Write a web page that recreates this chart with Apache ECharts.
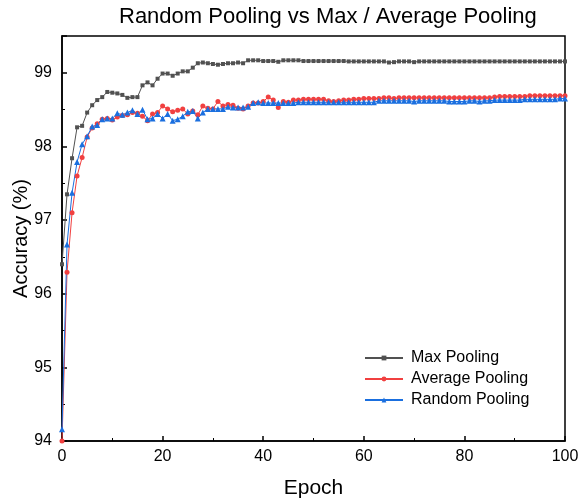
<!DOCTYPE html>
<html><head><meta charset="utf-8">
<script src="https://cdn.jsdelivr.net/npm/echarts@6/dist/echarts.min.js"></script>
<style>html,body{margin:0;padding:0;background:#fff}#c{width:579px;height:502px}</style>
</head><body><div id="c"></div>
<script>
const epochs = Array.from({length: 101}, (_, i) => i);
const maxPooling = [
96.40,97.35,97.84,98.26,98.28,98.46,98.56,98.63,98.67,98.74,
98.73,98.72,98.70,98.66,98.67,98.67,98.83,98.87,98.83,98.92,
98.99,98.99,98.96,98.99,99.02,99.02,99.07,99.13,99.14,99.13,
99.12,99.11,99.12,99.13,99.13,99.14,99.13,99.17,99.17,99.17,
99.16,99.16,99.16,99.15,99.17,99.17,99.17,99.17,99.16,99.16,
99.16,99.16,99.16,99.16,99.16,99.16,99.16,99.155,99.155,99.155,
99.155,99.155,99.155,99.155,99.155,99.14,99.145,99.155,99.155,99.155,
99.145,99.155,99.155,99.155,99.155,99.155,99.155,99.155,99.155,99.155,
99.155,99.155,99.155,99.155,99.155,99.155,99.155,99.155,99.155,99.155,
99.155,99.155,99.155,99.155,99.155,99.155,99.155,99.155,99.155,99.155,
99.155];
const averagePooling = [
94.00,96.29,97.10,97.60,97.85,98.13,98.25,98.31,98.37,98.38,
98.36,98.40,98.42,98.43,98.46,98.45,98.41,98.35,98.44,98.46,
98.55,98.51,98.47,98.49,98.51,98.44,98.48,98.43,98.55,98.52,
98.51,98.61,98.55,98.57,98.56,98.52,98.51,98.55,98.59,98.59,
98.61,98.67,98.63,98.53,98.61,98.60,98.63,98.63,98.64,98.64,
98.64,98.64,98.64,98.62,98.61,98.62,98.63,98.63,98.64,98.64,
98.65,98.65,98.65,98.65,98.66,98.66,98.65,98.66,98.66,98.66,
98.66,98.66,98.66,98.66,98.66,98.66,98.66,98.66,98.66,98.66,
98.66,98.66,98.66,98.66,98.66,98.66,98.67,98.68,98.68,98.68,
98.68,98.68,98.68,98.69,98.69,98.69,98.69,98.69,98.69,98.69,
98.69];
const randomPooling = [
94.16,96.67,97.37,97.79,98.03,98.14,98.27,98.29,98.37,98.38,
98.38,98.45,98.43,98.46,98.49,98.44,98.50,98.37,98.38,98.44,
98.38,98.44,98.35,98.37,98.41,98.47,98.48,98.38,98.46,98.51,
98.51,98.51,98.51,98.54,98.53,98.53,98.53,98.54,98.59,98.60,
98.59,98.59,98.59,98.59,98.59,98.59,98.59,98.60,98.60,98.60,
98.60,98.60,98.60,98.60,98.60,98.60,98.60,98.60,98.60,98.60,
98.60,98.60,98.60,98.62,98.62,98.62,98.62,98.62,98.62,98.62,
98.61,98.62,98.62,98.62,98.62,98.62,98.62,98.61,98.61,98.61,
98.61,98.62,98.62,98.61,98.62,98.62,98.63,98.63,98.63,98.63,
98.63,98.63,98.64,98.64,98.64,98.64,98.64,98.64,98.64,98.65,
98.65];
const seriesNames = ['Max Pooling', 'Average Pooling', 'Random Pooling'];
const xTicks = [0, 20, 40, 60, 80, 100];
const yTicks = [94, 95, 96, 97, 98, 99];

const font = 'Arial, "Liberation Sans", sans-serif';
const chart = echarts.init(document.getElementById('c'));
function pairs(arr){ return arr.map((v,i)=>[epochs[i], v]); }
const axisCommon = {
  axisLine: {show: true, onZero: false, lineStyle: {color: '#000', width: 1.5}},
  axisTick: {show: true, inside: true, length: 5, lineStyle: {color: '#000', width: 1.5}},
  minorTick: {show: true, splitNumber: 2, length: 3, lineStyle: {color: '#000', width: 1}},
  splitLine: {show: false},
  axisLabel: {color: '#000', fontSize: 16, fontFamily: font}
};
chart.setOption({
  animation: false,
  backgroundColor: '#fff',
  title: {text: 'Random Pooling vs Max / Average Pooling', left: 114, top: 1,
    textStyle: {fontSize: 22, fontWeight: 'normal', color: '#000', fontFamily: font}},
  grid: {left: 62, right: 14, top: 36, bottom: 61, show: true, borderColor: '#000', borderWidth: 1.5,
    containLabel: false, outerBoundsMode: 'none'},
  legend: {orient: 'vertical', left: 359, top: 345, itemWidth: 38, itemHeight: 6, itemGap: 5,
    data: seriesNames, textStyle: {fontSize: 16, color: '#000', fontFamily: font, padding: [0,0,0,3]}},
  xAxis: Object.assign({}, axisCommon, {
    type: 'value', min: xTicks[0], max: xTicks[xTicks.length-1], interval: 20,
    name: 'Epoch', nameLocation: 'middle', nameGap: 37, nameMoveOverlap: false,
    nameTextStyle: {fontSize: 21, color: '#000', fontFamily: font},
    axisLabel: Object.assign({}, axisCommon.axisLabel, {margin: 8})
  }),
  yAxis: Object.assign({}, axisCommon, {
    type: 'value', min: yTicks[0], max: 99.5, interval: 1,
    name: 'Accuracy (%)', nameLocation: 'middle', nameGap: 31, nameMoveOverlap: false,
    nameTextStyle: {fontSize: 20, color: '#000', fontFamily: font},
    axisLabel: Object.assign({}, axisCommon.axisLabel, {margin: 10,
      formatter: v => yTicks.includes(v) ? String(v) : ''})
  }),
  series: [
    {name: seriesNames[0], type: 'line', data: pairs(maxPooling), symbol: 'rect', symbolSize: 4,
     lineStyle: {width: 1, color: '#515151'}, itemStyle: {color: '#515151'}},
    {name: seriesNames[1], type: 'line', data: pairs(averagePooling), symbol: 'circle', symbolSize: 5,
     lineStyle: {width: 1, color: '#F14040'}, itemStyle: {color: '#F14040'}},
    {name: seriesNames[2], type: 'line', data: pairs(randomPooling), symbol: 'triangle', symbolSize: 6,
     lineStyle: {width: 1, color: '#1A6FDF'}, itemStyle: {color: '#1A6FDF'}}
  ]
});
</script></body></html>
